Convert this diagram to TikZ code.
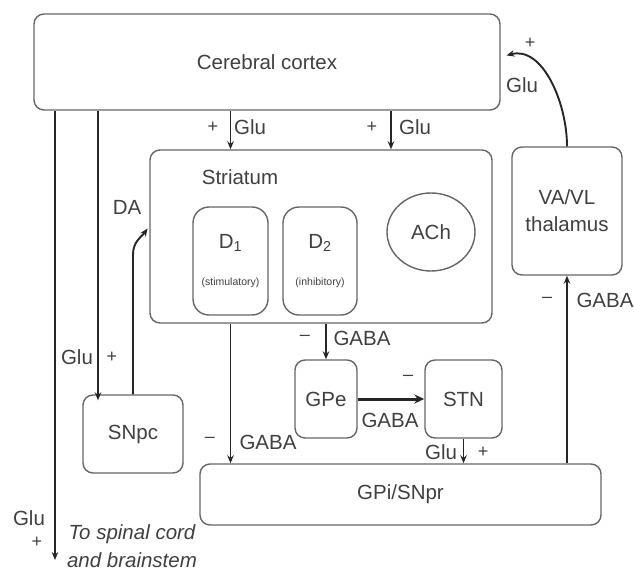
\documentclass[tikz,border=0pt]{standalone}
\usepackage{fontspec}
\setmainfont{Liberation Sans}
\usetikzlibrary{arrows.meta,shapes.geometric}

\begin{document}
\begin{tikzpicture}[x=1pt, y=-1pt,
    font=\fontsize{20.5}{23}\selectfont, text=black!75,
    box/.style={draw=black!60, line width=1.4pt, rounded corners=10pt, fill=white, inner sep=0pt, align=center},
    arr/.style={draw=black!85, line width=1.9pt, -{Stealth[length=8pt,width=6.5pt]}},
    sign/.style={font=\fontsize{18}{20}\selectfont}]
    \useasboundingbox (0,0) rectangle (634,577);
    % boxes
    \node[box, minimum width=466pt, minimum height=96pt] (cortex) at (267,62) {Cerebral cortex};
    \node[box, minimum width=342pt, minimum height=173pt] (striatum) at (321,236.5) {};
    \node (striatumtext) at (240,177) {Striatum};
    \node[box, rounded corners=16pt, minimum width=75pt, minimum height=108pt] (d1) at (230.5,261)
        {D\textsubscript{1}\\[14pt]{\fontsize{10.5}{12}\selectfont (stimulatory)}};
    \node[box, rounded corners=16pt, minimum width=74pt, minimum height=108pt] (d2) at (320,261)
        {D\textsubscript{2}\\[14pt]{\fontsize{10.5}{12}\selectfont (inhibitory)}};
    \node[box, ellipse, minimum width=88pt, minimum height=78pt] (ach) at (431,232) {ACh};
    \node[box, minimum width=110pt, minimum height=128pt] (thal) at (567,211) {VA/VL\\[4pt]thalamus};
    \node[box, minimum width=100pt, minimum height=78pt] (snpc) at (133,434) {SNpc};
    \node[box, minimum width=62pt, minimum height=78pt] (gpe) at (326,399) {GPe};
    \node[box, minimum width=77pt, minimum height=78pt] (stn) at (463.5,399) {STN};
    \node[box, minimum width=401pt, minimum height=61pt] (gpi) at (400.5,494.5) {GPi/SNpr};
    \coordinate (spinal) at (55,560);
    \coordinate (tosnpc) at (98,0);
    \coordinate (glutwo) at (391,0);
    % connectors
    \draw[arr] (cortex.south -| d1) -- (striatum.north -| d1);
    \draw[arr] (cortex.south -| glutwo) -- (striatum.north -| glutwo);
    \draw[arr] (cortex.south -| spinal) -- (spinal);
    \draw[arr] (cortex.south -| tosnpc) -- ([yshift=-6pt]snpc.north -| tosnpc);
    \draw[arr, shorten >=3pt] (snpc.north) -- ++(0,-140) to[out=90, in=235] (striatum.west |- 0,226);
    \draw[arr] (striatum.south -| gpe) -- (gpe.north);
    \draw[arr] (striatum.south -| d1) -- (gpi.north -| d1);
    \draw[arr, line width=3pt, -{Stealth[length=10pt,width=9pt]}] (gpe) -- (stn);
    \draw[arr] (stn.south) -- (gpi.north -| stn);
    \draw[arr] (gpi.north -| thal) -- (thal.south);
    \draw[arr, shorten >=6pt] (thal.north) to[out=90, in=15] (cortex.east |- 0,57);
    % labels
    \node[sign] (p1) at (213,127) {+};
    \node (g1) at (250,127) {Glu};
    \node[sign] (p2) at (372,127) {+};
    \node (g2) at (415,127) {Glu};
    \node[sign] (p3) at (530,43) {+};
    \node (g3) at (522,85) {Glu};
    \node (da) at (127,207) {DA};
    \node (g4) at (77,357) {Glu};
    \node[sign] (p4) at (112,357) {+};
    \node (g5) at (29,518) {Glu};
    \node[sign] (p5) at (37,542) {+};
    \node[align=center, font=\fontsize{20.5}{23}\selectfont\itshape] (spinaltext) at (132,546) {To spinal cord\\[5pt]and brainstem};
    \node[sign] (m1) at (305,338) {--};
    \node (a1) at (362,338) {GABA};
    \node[sign] (m2) at (408,378) {--};
    \node (a2) at (390,420) {GABA};
    \node[sign] (m3) at (210,440) {--};
    \node (a3) at (268,442) {GABA};
    \node (g6) at (441,452) {Glu};
    \node[sign] (p6) at (483,452) {+};
    \node[sign] (m4) at (547,300) {--};
    \node (a4) at (605,300) {GABA};
\end{tikzpicture}
\end{document}
